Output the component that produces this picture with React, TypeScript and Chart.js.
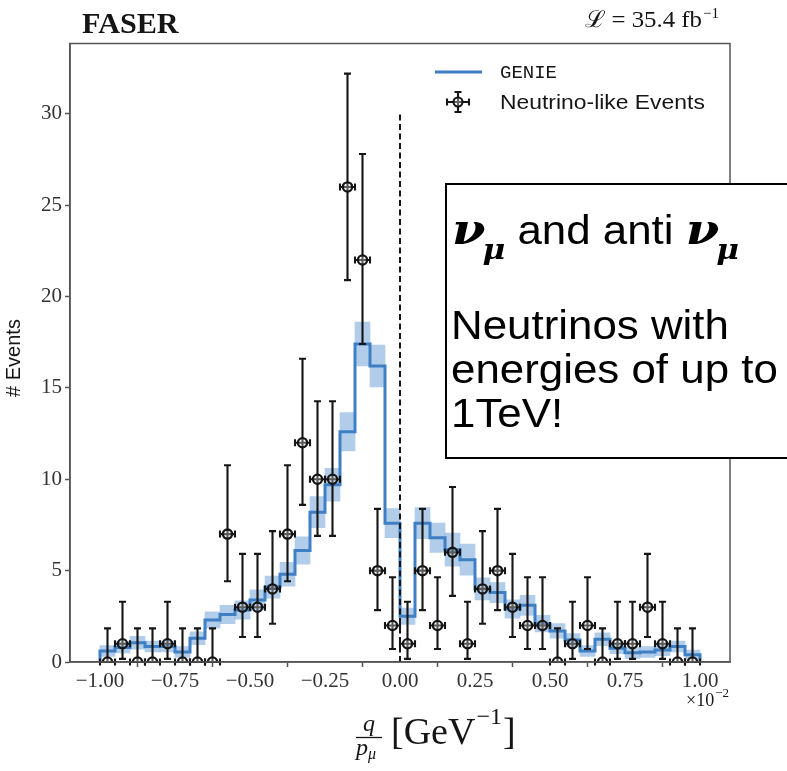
import React, { useEffect, useRef } from "react";
import { Chart, registerables } from "chart.js";

Chart.register(...registerables);

// ---------- DATA ----------
const binEdges = [
  -1.0, -0.95, -0.9, -0.85, -0.8, -0.75, -0.7, -0.65, -0.6, -0.55,
  -0.5, -0.45, -0.4, -0.35, -0.3, -0.25, -0.2, -0.15, -0.1, -0.05,
  0.0, 0.05, 0.1, 0.15, 0.2, 0.25, 0.3, 0.35, 0.4, 0.45,
  0.5, 0.55, 0.6, 0.65, 0.7, 0.75, 0.8, 0.85, 0.9, 0.95, 1.0,
];

// Neutrino-like events per bin
const dataCounts = [
  0, 1, 0, 0, 1, 0, 0, 0, 7, 3,
  3, 4, 7, 12, 10, 10, 26, 22, 5, 2,
  1, 5, 2, 6, 1, 4, 5, 3, 2, 2,
  0, 1, 2, 0, 1, 1, 3, 1, 0, 0,
];
// lower / upper ends of the vertical error bars
const errLow = [
  0, 0.17, 0, 0, 0.17, 0, 0, 0, 4.42, 1.37,
  1.37, 2.09, 4.42, 8.6, 6.9, 6.9, 20.9, 17.4, 2.84, 0.71,
  0.17, 2.84, 0.71, 3.62, 0.17, 2.09, 2.84, 1.37, 0.71, 0.71,
  0, 0.17, 0.71, 0, 0.17, 0.17, 1.37, 0.17, 0, 0,
];
const errHigh = [
  1.84, 3.3, 1.84, 1.84, 3.3, 1.84, 1.84, 1.84, 10.77, 5.92,
  5.92, 7.16, 10.77, 16.6, 14.27, 14.27, 32.2, 27.8, 8.38, 4.64,
  3.3, 8.38, 4.64, 9.58, 3.3, 7.16, 8.38, 5.92, 4.64, 4.64,
  1.84, 3.3, 4.64, 1.84, 3.3, 3.3, 5.92, 3.3, 1.84, 1.84,
];

// GENIE prediction per bin and its uncertainty (half width of band)
const genie = [
  0.6, 0.8, 1.05, 0.85, 0.85, 0.55, 1.3, 2.3, 2.6, 2.85,
  3.4, 4.1, 4.8, 6.1, 8.2, 9.7, 12.6, 17.4, 16.2, 7.6,
  2.5, 7.6, 6.8, 6.15, 5.6, 4.0, 3.8, 2.9, 3.1, 2.1,
  1.7, 1.2, 0.6, 1.25, 0.75, 0.5, 0.55, 0.65, 0.85, 0.4,
];
const genieUnc = [
  0.3, 0.3, 0.35, 0.3, 0.3, 0.3, 0.35, 0.45, 0.5, 0.5,
  0.55, 0.6, 0.65, 0.75, 0.85, 0.9, 1.05, 1.2, 1.15, 0.8,
  0.45, 0.85, 0.8, 0.9, 0.85, 0.6, 0.55, 0.5, 0.55, 0.45,
  0.4, 0.35, 0.3, 0.35, 0.3, 0.3, 0.3, 0.3, 0.3, 0.25,
];

const xTicks = [-1.0, -0.75, -0.5, -0.25, 0.0, 0.25, 0.5, 0.75, 1.0];
const yTicks = [0, 5, 10, 15, 20, 25, 30];
const dividerX = 0;
const dividerTop = 30;

// ---------- STYLE ----------
const BLUE = "#3f7fc4";
const BAND = "rgba(70,135,205,0.42)";
const INK = "#151515";
const FRAME = "#555";
const SERIF = "'Liberation Serif', 'DejaVu Serif', serif";
const SANS = "'Liberation Sans', Arial, sans-serif";

const binCenters = binEdges.slice(0, -1).map((e, i) => (e + binEdges[i + 1]) / 2);

function fmtTick(v: number) {
  const s = Math.abs(v).toFixed(2);
  return v < 0 ? "\u2212" + s : s;
}

function stretchText(ctx: any, t: string, x: number, y: number, sx: number) {
  ctx.save();
  ctx.translate(x, y);
  ctx.scale(sx, 1);
  ctx.fillText(t, 0, 0);
  ctx.restore();
  return ctx.measureText(t).width * sx;
}

const overlayPlugin = {
  id: "faserOverlay",
  beforeDatasetDraw(chart: any, args: any) {
    if (args.index !== 3) return;
    const { ctx, scales } = chart;
    const xs = scales.x;
    const ys = scales.y;
    ctx.save();
    ctx.strokeStyle = INK;
    ctx.lineWidth = 2.1;
    const cap = 3.5;
    binCenters.forEach((c, i) => {
      const px = xs.getPixelForValue(c);
      const py = ys.getPixelForValue(dataCounts[i]);
      const lo = ys.getPixelForValue(errLow[i]);
      const hi = ys.getPixelForValue(errHigh[i]);
      const xl = xs.getPixelForValue(binEdges[i]);
      const xr = xs.getPixelForValue(binEdges[i + 1]);
      ctx.beginPath();
      ctx.moveTo(px, lo);
      ctx.lineTo(px, hi);
      ctx.moveTo(px - cap, hi);
      ctx.lineTo(px + cap, hi);
      ctx.moveTo(px - cap, lo);
      ctx.lineTo(px + cap, lo);
      ctx.moveTo(xl, py);
      ctx.lineTo(xr, py);
      ctx.moveTo(xl, py - cap);
      ctx.lineTo(xl, py + cap);
      ctx.moveTo(xr, py - cap);
      ctx.lineTo(xr, py + cap);
      ctx.stroke();
    });
    ctx.restore();
  },
  afterDraw(chart: any) {
    const { ctx, chartArea, scales } = chart;
    const xs = scales.x;
    const ys = scales.y;
    ctx.save();

    // dashed divider
    ctx.strokeStyle = INK;
    ctx.lineWidth = 2;
    ctx.setLineDash([6, 3.5]);
    ctx.beginPath();
    ctx.moveTo(xs.getPixelForValue(dividerX), ys.getPixelForValue(0));
    ctx.lineTo(xs.getPixelForValue(dividerX), ys.getPixelForValue(dividerTop));
    ctx.stroke();
    ctx.setLineDash([]);

    // frame
    ctx.strokeStyle = FRAME;
    ctx.lineWidth = 1.5;
    ctx.strokeRect(chartArea.left, chartArea.top, chartArea.right - chartArea.left, chartArea.bottom - chartArea.top);

    ctx.fillStyle = INK;
    ctx.textBaseline = "alphabetic";

    // title
    ctx.font = `bold 29px ${SERIF}`;
    ctx.textAlign = "left";
    stretchText(ctx, "FASER", 82, 33, 1.04);

    // luminosity
    ctx.font = `23px ${SERIF}`;
    const lumMain = "\u2112 = 35.4 fb";
    const mainW = ctx.measureText(lumMain).width * 1.08;
    ctx.font = `15px ${SERIF}`;
    const supW = ctx.measureText("\u22121").width;
    const lx = 718 - supW - mainW;
    ctx.font = `23px ${SERIF}`;
    stretchText(ctx, lumMain, lx, 27, 1.08);
    ctx.font = `15px ${SERIF}`;
    ctx.fillText("\u22121", lx + mainW + 1, 18);

    // y-axis title
    ctx.save();
    ctx.translate(20, 358);
    ctx.rotate(-Math.PI / 2);
    ctx.font = `20px ${SANS}`;
    ctx.textAlign = "center";
    ctx.fillText("# Events", 0, 0);
    ctx.restore();

    // x-axis title q / p_mu [GeV^-1]
    ctx.textAlign = "center";
    ctx.font = `italic 24px ${SERIF}`;
    ctx.fillText("q", 369, 731);
    ctx.lineWidth = 1.3;
    ctx.strokeStyle = INK;
    ctx.beginPath();
    ctx.moveTo(356, 737.5);
    ctx.lineTo(382, 737.5);
    ctx.stroke();
    ctx.textAlign = "left";
    ctx.font = `italic 24px ${SERIF}`;
    ctx.fillText("p", 356, 755);
    const pW = ctx.measureText("p").width;
    ctx.font = `italic 16px ${SERIF}`;
    ctx.fillText("\u03bc", 356 + pW, 759);
    ctx.font = `38px ${SERIF}`;
    const g = "[GeV";
    ctx.fillText(g, 391, 744);
    const gW = ctx.measureText(g).width;
    ctx.font = `24px ${SERIF}`;
    const s = "\u22121";
    ctx.fillText(s, 391 + gW + 1, 724);
    const sW = ctx.measureText(s).width;
    ctx.font = `38px ${SERIF}`;
    ctx.fillText("]", 391 + gW + sW + 2, 744);

    // x10^-2
    ctx.font = `13px ${SERIF}`;
    const e2 = "\u22122";
    const e2W = ctx.measureText(e2).width;
    ctx.font = `18px ${SERIF}`;
    const tW = ctx.measureText("\u00d710").width;
    const ex = 728 - e2W - tW;
    ctx.fillText("\u00d710", ex, 706);
    ctx.font = `13px ${SERIF}`;
    ctx.fillText(e2, ex + tW + 1, 697);

    // legend
    ctx.strokeStyle = BLUE;
    ctx.lineWidth = 3;
    ctx.beginPath();
    ctx.moveTo(435, 72);
    ctx.lineTo(482, 72);
    ctx.stroke();
    ctx.textBaseline = "middle";
    ctx.font = `19px 'Liberation Mono', monospace`;
    ctx.fillText("GENIE", 500, 73);
    ctx.font = `21px ${SANS}`;
    stretchText(ctx, "Neutrino-like Events", 500, 103, 1.09);
    // legend marker
    const mx = 458, my = 102;
    ctx.strokeStyle = INK;
    ctx.lineWidth = 2.1;
    ctx.beginPath();
    ctx.moveTo(mx - 11, my); ctx.lineTo(mx + 11, my);
    ctx.moveTo(mx - 11, my - 3.5); ctx.lineTo(mx - 11, my + 3.5);
    ctx.moveTo(mx + 11, my - 3.5); ctx.lineTo(mx + 11, my + 3.5);
    ctx.moveTo(mx, my - 10); ctx.lineTo(mx, my + 10);
    ctx.moveTo(mx - 3.5, my - 10); ctx.lineTo(mx + 3.5, my - 10);
    ctx.moveTo(mx - 3.5, my + 10); ctx.lineTo(mx + 3.5, my + 10);
    ctx.stroke();
    ctx.beginPath();
    ctx.arc(mx, my, 4.5, 0, Math.PI * 2);
    ctx.fillStyle = "rgba(255,255,255,0.35)";
    ctx.fill();
    ctx.stroke();
    ctx.fillStyle = INK;

    // overlay text box
    ctx.textBaseline = "alphabetic";
    ctx.fillStyle = "#fff";
    ctx.fillRect(446, 184, 360, 274);
    ctx.strokeStyle = "#000";
    ctx.lineWidth = 2;
    ctx.strokeRect(446, 184, 360, 274);
    ctx.fillStyle = "#000";
    const SX = 1.07;
    const L1 = 244;
    let cx = 452;
    const MATH = "'DejaVu Serif', 'Liberation Serif', serif";
    const nu = () => {
      ctx.font = `bold italic 42px ${MATH}`;
      cx += stretchText(ctx, "\u03bd", cx, L1, 1.15) - 3;
      ctx.font = `bold italic 27px ${MATH}`;
      cx += stretchText(ctx, "\u03bc", cx, L1 + 15, 1.15);
    };
    nu();
    ctx.font = `41px ${SANS}`;
    cx += stretchText(ctx, " and anti ", cx, L1, SX);
    nu();
    ctx.font = `41px ${SANS}`;
    stretchText(ctx, "Neutrinos with", 451, 339, SX);
    stretchText(ctx, "energies of up to", 451, 383, SX);
    stretchText(ctx, "1TeV!", 451, 427, SX);

    ctx.restore();
  },
};

export default function App() {
  const ref = useRef<HTMLCanvasElement | null>(null);
  useEffect(() => {
    if (!ref.current) return;
    const bandData = binCenters.map((c, i) => ({ x: c, y: [genie[i] - genieUnc[i], genie[i] + genieUnc[i]] }));
    const stepData = [{ x: binEdges[0], y: 0 }]
      .concat(genie.map((v, i) => ({ x: binEdges[i], y: v })))
      .concat([{ x: binEdges[binEdges.length - 1], y: genie[genie.length - 1] }, { x: binEdges[binEdges.length - 1], y: 0 }]);
    const pts = binCenters.map((c, i) => ({ x: c, y: dataCounts[i] }));

    const chart = new Chart(ref.current, {
      type: "line",
      data: {
        datasets: [
          {
            type: "bar",
            label: "GENIE band",
            data: bandData as any,
            backgroundColor: BAND,
            borderWidth: 0,
            barPercentage: 1,
            categoryPercentage: 1,
            grouped: false,
            order: 3,
          } as any,
          {
            type: "line",
            label: "GENIE",
            data: stepData,
            borderColor: BLUE,
            borderWidth: 3,
            stepped: "before",
            pointRadius: 0,
            fill: false,
            order: 2,
          } as any,
          {
            type: "line",
            label: "spacer",
            data: [],
            order: 2,
          } as any,
          {
            type: "scatter",
            label: "Neutrino-like Events",
            data: pts,
            pointStyle: "circle",
            pointRadius: 4.6,
            borderColor: INK,
            borderWidth: 2.3,
            backgroundColor: "rgba(255,255,255,0.3)",
            order: 1,
          } as any,
        ],
      },
      options: {
        animation: false,
        responsive: true,
        maintainAspectRatio: false,
        layout: { padding: { left: 0, top: 43.5, right: 57, bottom: 0 } },
        plugins: { legend: { display: false }, tooltip: { enabled: false }, title: { display: false } },
        scales: {
          x: {
            type: "linear",
            min: -1.1,
            max: 1.1,
            offset: false,
            afterFit: (s: any) => { s.height = 109; },
            afterBuildTicks: (s: any) => { s.ticks = xTicks.map((v) => ({ value: v })); },
            grid: { display: true, drawOnChartArea: false, drawTicks: true, tickLength: 5, tickColor: FRAME, tickWidth: 1.5 },
            border: { display: true, color: FRAME, width: 1.5 },
            ticks: {
              autoSkip: false,
              maxRotation: 0,
              padding: 2,
              color: "#333",
              font: { family: "Liberation Serif", size: 21 },
              callback: (v: any) => fmtTick(Number(v)),
            },
          },
          y: {
            type: "linear",
            min: 0,
            max: 33.85,
            afterFit: (s: any) => { s.width = 70; },
            afterBuildTicks: (s: any) => { s.ticks = yTicks.map((v) => ({ value: v })); },
            grid: { display: true, drawOnChartArea: false, drawTicks: true, tickLength: 5, tickColor: FRAME, tickWidth: 1.5 },
            border: { display: true, color: FRAME, width: 1.5 },
            ticks: {
              padding: 3,
              color: "#333",
              font: { family: "Liberation Serif", size: 21 },
              callback: (v: any) => String(v),
            },
          },
        },
      },
      plugins: [overlayPlugin],
    });
    return () => chart.destroy();
  }, []);

  return (
    <div style={{ position: "absolute", left: 0, top: 0, width: 787, height: 771, background: "#fff" }}>
      <canvas ref={ref} />
    </div>
  );
}
